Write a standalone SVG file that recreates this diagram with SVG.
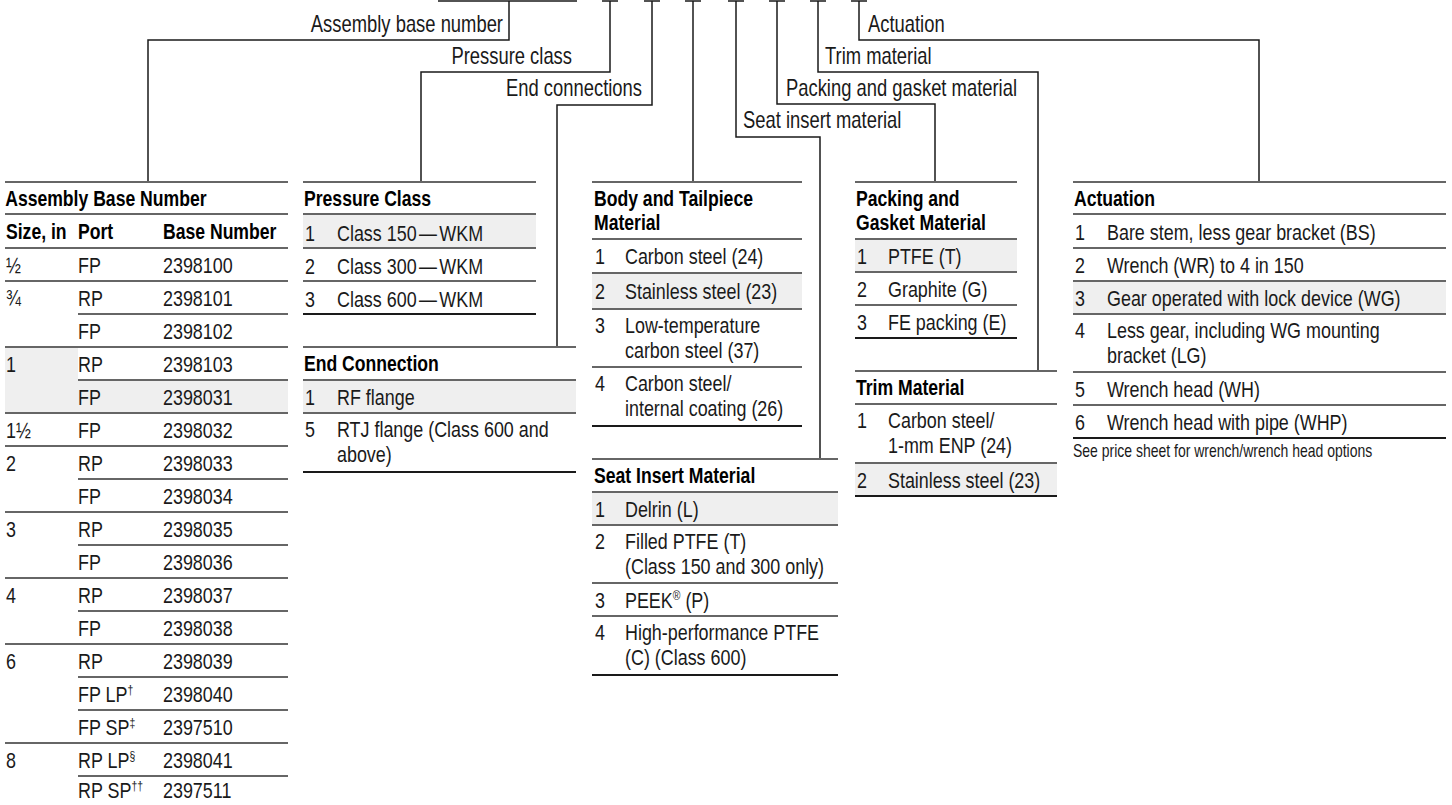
<svg xmlns="http://www.w3.org/2000/svg" width="1452" height="805" viewBox="0 0 1452 805">
<style>
.t{font-family:"Liberation Sans",Arial,sans-serif;font-size:22.4px;fill:#1a1a1a}
.b{font-family:"Liberation Sans",Arial,sans-serif;font-size:22px;font-weight:bold;fill:#000}
.lbl{font-family:"Liberation Sans",Arial,sans-serif;font-size:23px;fill:#1a1a1a}
.note{font-family:"Liberation Sans",Arial,sans-serif;font-size:17.5px;fill:#1a1a1a}
.sup{font-size:13px}
.r{stroke:#666;stroke-width:2;fill:none}
.e{stroke:#1a1a1a;stroke-width:1.8;fill:none}
.c{stroke:#1a1a1a;stroke-width:1.5;fill:none}
.g{fill:#efefef}
</style>
<rect width="1452" height="805" fill="#fff"/>

<g id="connectors">
  <line class="c" x1="438" y1="1" x2="577" y2="1"/>
  <polyline class="c" points="509,1 509,40 148,40 148,182"/>
  <line class="c" x1="602" y1="1" x2="618" y2="1"/>
  <polyline class="c" points="610,1 610,72 421,72 421,182"/>
  <line class="c" x1="644" y1="1" x2="660" y2="1"/>
  <polyline class="c" points="652,1 652,105 557,105 557,347"/>
  <line class="c" x1="685" y1="1" x2="701" y2="1"/>
  <polyline class="c" points="693,1 693,182"/>
  <line class="c" x1="728" y1="1" x2="744" y2="1"/>
  <polyline class="c" points="736,1 736,137 820,137 820,459"/>
  <line class="c" x1="769" y1="1" x2="785" y2="1"/>
  <polyline class="c" points="777,1 777,104 935,104 935,182"/>
  <line class="c" x1="810" y1="1" x2="826" y2="1"/>
  <polyline class="c" points="818,1 818,72 1038,72 1038,371"/>
  <line class="c" x1="851" y1="1" x2="867" y2="1"/>
  <polyline class="c" points="859,1 859,40 1259,40 1259,182"/>
  <g transform="scale(0.8 1)">
    <text class="lbl" x="628.75" y="32" text-anchor="end">Assembly base number</text>
    <text class="lbl" x="715" y="64" text-anchor="end">Pressure class</text>
    <text class="lbl" x="802.5" y="96" text-anchor="end">End connections</text>
    <text class="lbl" x="928.75" y="128">Seat insert material</text>
    <text class="lbl" x="982.5" y="96">Packing and gasket material</text>
    <text class="lbl" x="1031.25" y="64">Trim material</text>
    <text class="lbl" x="1085" y="32">Actuation</text>
  </g>
</g>

<g id="assembly-base-number">
  <rect class="g" x="5" y="347" width="73" height="66"/>
  <rect class="g" x="78" y="380" width="210" height="33"/>
  <line class="r" x1="5" y1="182" x2="288" y2="182"/>
  <line class="r" x1="5" y1="214" x2="288" y2="214"/>
  <line class="r" x1="5" y1="248" x2="288" y2="248"/>
  <line class="r" x1="5" y1="281" x2="288" y2="281"/>
  <line class="r" x1="78" y1="314" x2="288" y2="314"/>
  <line class="r" x1="5" y1="347" x2="288" y2="347"/>
  <line class="r" x1="78" y1="380" x2="288" y2="380"/>
  <line class="r" x1="5" y1="413" x2="288" y2="413"/>
  <line class="r" x1="5" y1="446" x2="288" y2="446"/>
  <line class="r" x1="78" y1="479" x2="288" y2="479"/>
  <line class="r" x1="5" y1="512" x2="288" y2="512"/>
  <line class="r" x1="78" y1="545" x2="288" y2="545"/>
  <line class="r" x1="5" y1="578" x2="288" y2="578"/>
  <line class="r" x1="78" y1="611" x2="288" y2="611"/>
  <line class="r" x1="5" y1="644" x2="288" y2="644"/>
  <line class="r" x1="78" y1="677" x2="288" y2="677"/>
  <line class="r" x1="78" y1="710" x2="288" y2="710"/>
  <line class="r" x1="5" y1="743" x2="288" y2="743"/>
  <line class="r" x1="78" y1="776" x2="288" y2="776"/>
  <g transform="scale(0.8 1)">
    <text class="b" x="6.5" y="206">Assembly Base Number</text>
    <text class="b" x="7.5" y="239">Size, in</text>
    <text class="b" x="97.5" y="239">Port</text>
    <text class="b" x="203.75" y="239">Base Number</text>
    <text class="t" x="7.5" y="273">½</text><text class="t" x="97.5" y="273">FP</text><text class="t" x="203.75" y="273">2398100</text>
    <text class="t" x="7.5" y="306">¾</text><text class="t" x="97.5" y="306">RP</text><text class="t" x="203.75" y="306">2398101</text>
    <text class="t" x="97.5" y="339">FP</text><text class="t" x="203.75" y="339">2398102</text>
    <text class="t" x="7.5" y="372">1</text><text class="t" x="97.5" y="372">RP</text><text class="t" x="203.75" y="372">2398103</text>
    <text class="t" x="97.5" y="405">FP</text><text class="t" x="203.75" y="405">2398031</text>
    <text class="t" x="7.5" y="438">1½</text><text class="t" x="97.5" y="438">FP</text><text class="t" x="203.75" y="438">2398032</text>
    <text class="t" x="7.5" y="471">2</text><text class="t" x="97.5" y="471">RP</text><text class="t" x="203.75" y="471">2398033</text>
    <text class="t" x="97.5" y="504">FP</text><text class="t" x="203.75" y="504">2398034</text>
    <text class="t" x="7.5" y="537">3</text><text class="t" x="97.5" y="537">RP</text><text class="t" x="203.75" y="537">2398035</text>
    <text class="t" x="97.5" y="570">FP</text><text class="t" x="203.75" y="570">2398036</text>
    <text class="t" x="7.5" y="603">4</text><text class="t" x="97.5" y="603">RP</text><text class="t" x="203.75" y="603">2398037</text>
    <text class="t" x="97.5" y="636">FP</text><text class="t" x="203.75" y="636">2398038</text>
    <text class="t" x="7.5" y="669">6</text><text class="t" x="97.5" y="669">RP</text><text class="t" x="203.75" y="669">2398039</text>
    <text class="t" x="97.5" y="702">FP LP<tspan class="sup" dy="-8">†</tspan></text><text class="t" x="203.75" y="702">2398040</text>
    <text class="t" x="97.5" y="735">FP SP<tspan class="sup" dy="-8">‡</tspan></text><text class="t" x="203.75" y="735">2397510</text>
    <text class="t" x="7.5" y="768">8</text><text class="t" x="97.5" y="768">RP LP<tspan class="sup" dy="-8">§</tspan></text><text class="t" x="203.75" y="768">2398041</text>
    <text class="t" x="97.5" y="798">RP SP<tspan class="sup" dy="-8">††</tspan></text><text class="t" x="203.75" y="798">2397511</text>
  </g>
</g>

<g id="pressure-class">
  <rect class="g" x="303" y="214" width="233" height="34"/>
  <line class="r" x1="303" y1="182" x2="536" y2="182"/>
  <line class="r" x1="303" y1="214" x2="536" y2="214"/>
  <line class="r" x1="303" y1="248" x2="536" y2="248"/>
  <line class="r" x1="303" y1="281" x2="536" y2="281"/>
  <line class="e" x1="303" y1="314" x2="536" y2="314"/>
  <g transform="scale(0.8 1)">
    <text class="b" x="380" y="206">Pressure Class</text>
    <text class="t" x="381.25" y="241">1</text><text class="t" x="421.25" y="241">Class 150<tspan dx="3">—</tspan><tspan dx="3">WKM</tspan></text>
    <text class="t" x="381.25" y="274">2</text><text class="t" x="421.25" y="274">Class 300<tspan dx="3">—</tspan><tspan dx="3">WKM</tspan></text>
    <text class="t" x="381.25" y="307">3</text><text class="t" x="421.25" y="307">Class 600<tspan dx="3">—</tspan><tspan dx="3">WKM</tspan></text>
  </g>
</g>

<g id="end-connection">
  <rect class="g" x="303" y="380" width="273" height="33"/>
  <line class="r" x1="303" y1="347" x2="576" y2="347"/>
  <line class="r" x1="303" y1="380" x2="576" y2="380"/>
  <line class="r" x1="303" y1="413" x2="576" y2="413"/>
  <line class="e" x1="303" y1="472" x2="576" y2="472"/>
  <g transform="scale(0.8 1)">
    <text class="b" x="380" y="371">End Connection</text>
    <text class="t" x="381.25" y="405">1</text><text class="t" x="421.25" y="405">RF flange</text>
    <text class="t" x="381.25" y="437">5</text><text class="t" x="421.25" y="437">RTJ flange (Class 600 and</text>
    <text class="t" x="421.25" y="462">above)</text>
  </g>
</g>

<g id="body-tailpiece-material">
  <rect class="g" x="592" y="273" width="210" height="36"/>
  <line class="r" x1="592" y1="182" x2="802" y2="182"/>
  <line class="r" x1="592" y1="239" x2="802" y2="239"/>
  <line class="r" x1="592" y1="273" x2="802" y2="273"/>
  <line class="r" x1="592" y1="309" x2="802" y2="309"/>
  <line class="r" x1="592" y1="367" x2="802" y2="367"/>
  <line class="e" x1="592" y1="426" x2="802" y2="426"/>
  <g transform="scale(0.8 1)">
    <text class="b" x="742.5" y="206">Body and Tailpiece</text>
    <text class="b" x="742.5" y="230">Material</text>
    <text class="t" x="743.75" y="264">1</text><text class="t" x="781.25" y="264">Carbon steel (24)</text>
    <text class="t" x="743.75" y="299">2</text><text class="t" x="781.25" y="299">Stainless steel (23)</text>
    <text class="t" x="743.75" y="333">3</text><text class="t" x="781.25" y="333">Low-temperature</text>
    <text class="t" x="781.25" y="358">carbon steel (37)</text>
    <text class="t" x="743.75" y="391">4</text><text class="t" x="781.25" y="391">Carbon steel/</text>
    <text class="t" x="781.25" y="416">internal coating (26)</text>
  </g>
</g>

<g id="seat-insert-material">
  <rect class="g" x="592" y="492" width="246" height="33"/>
  <line class="r" x1="592" y1="459" x2="838" y2="459"/>
  <line class="r" x1="592" y1="492" x2="838" y2="492"/>
  <line class="r" x1="592" y1="525" x2="838" y2="525"/>
  <line class="r" x1="592" y1="583" x2="838" y2="583"/>
  <line class="r" x1="592" y1="616" x2="838" y2="616"/>
  <line class="e" x1="592" y1="675" x2="838" y2="675"/>
  <g transform="scale(0.8 1)">
    <text class="b" x="742.5" y="483">Seat Insert Material</text>
    <text class="t" x="743.75" y="517">1</text><text class="t" x="781.25" y="517">Delrin (L)</text>
    <text class="t" x="743.75" y="549">2</text><text class="t" x="781.25" y="549">Filled PTFE (T)</text>
    <text class="t" x="781.25" y="574">(Class 150 and 300 only)</text>
    <text class="t" x="743.75" y="608">3</text><text class="t" x="781.25" y="608">PEEK<tspan class="sup" dy="-8">®</tspan><tspan dy="8"> (P)</tspan></text>
    <text class="t" x="743.75" y="640">4</text><text class="t" x="781.25" y="640">High-performance PTFE</text>
    <text class="t" x="781.25" y="665">(C) (Class 600)</text>
  </g>
</g>

<g id="packing-gasket-material">
  <rect class="g" x="855" y="239" width="162" height="33"/>
  <line class="r" x1="855" y1="182" x2="1017" y2="182"/>
  <line class="r" x1="855" y1="239" x2="1017" y2="239"/>
  <line class="r" x1="855" y1="272" x2="1017" y2="272"/>
  <line class="r" x1="855" y1="305" x2="1017" y2="305"/>
  <line class="e" x1="855" y1="338" x2="1017" y2="338"/>
  <g transform="scale(0.8 1)">
    <text class="b" x="1070" y="206">Packing and</text>
    <text class="b" x="1070" y="230">Gasket Material</text>
    <text class="t" x="1071.25" y="264">1</text><text class="t" x="1110" y="264">PTFE (T)</text>
    <text class="t" x="1071.25" y="297">2</text><text class="t" x="1110" y="297">Graphite (G)</text>
    <text class="t" x="1071.25" y="330">3</text><text class="t" x="1110" y="330">FE packing (E)</text>
  </g>
</g>

<g id="trim-material">
  <rect class="g" x="855" y="463" width="202" height="33"/>
  <line class="r" x1="855" y1="371" x2="1057" y2="371"/>
  <line class="r" x1="855" y1="404" x2="1057" y2="404"/>
  <line class="r" x1="855" y1="463" x2="1057" y2="463"/>
  <line class="e" x1="855" y1="496" x2="1057" y2="496"/>
  <g transform="scale(0.8 1)">
    <text class="b" x="1070" y="395">Trim Material</text>
    <text class="t" x="1071.25" y="428">1</text><text class="t" x="1110" y="428">Carbon steel/</text>
    <text class="t" x="1110" y="453">1-mm ENP (24)</text>
    <text class="t" x="1071.25" y="488">2</text><text class="t" x="1110" y="488">Stainless steel (23)</text>
  </g>
</g>

<g id="actuation">
  <rect class="g" x="1073" y="281" width="373" height="33"/>
  <line class="r" x1="1073" y1="182" x2="1446" y2="182"/>
  <line class="r" x1="1073" y1="214" x2="1446" y2="214"/>
  <line class="r" x1="1073" y1="248" x2="1446" y2="248"/>
  <line class="r" x1="1073" y1="281" x2="1446" y2="281"/>
  <line class="r" x1="1073" y1="314" x2="1446" y2="314"/>
  <line class="r" x1="1073" y1="372" x2="1446" y2="372"/>
  <line class="r" x1="1073" y1="405" x2="1446" y2="405"/>
  <line class="e" x1="1073" y1="438" x2="1446" y2="438"/>
  <g transform="scale(0.8 1)">
    <text class="b" x="1342.5" y="206">Actuation</text>
    <text class="t" x="1343.75" y="240">1</text><text class="t" x="1383.75" y="240">Bare stem, less gear bracket (BS)</text>
    <text class="t" x="1343.75" y="273">2</text><text class="t" x="1383.75" y="273">Wrench (WR) to 4 in 150</text>
    <text class="t" x="1343.75" y="306">3</text><text class="t" x="1383.75" y="306">Gear operated with lock device (WG)</text>
    <text class="t" x="1343.75" y="338">4</text><text class="t" x="1383.75" y="338">Less gear, including WG mounting</text>
    <text class="t" x="1383.75" y="363">bracket (LG)</text>
    <text class="t" x="1343.75" y="397">5</text><text class="t" x="1383.75" y="397">Wrench head (WH)</text>
    <text class="t" x="1343.75" y="430">6</text><text class="t" x="1383.75" y="430">Wrench head with pipe (WHP)</text>
    <text class="note" x="1341.25" y="457">See price sheet for wrench/wrench head options</text>
  </g>
</g>
</svg>
